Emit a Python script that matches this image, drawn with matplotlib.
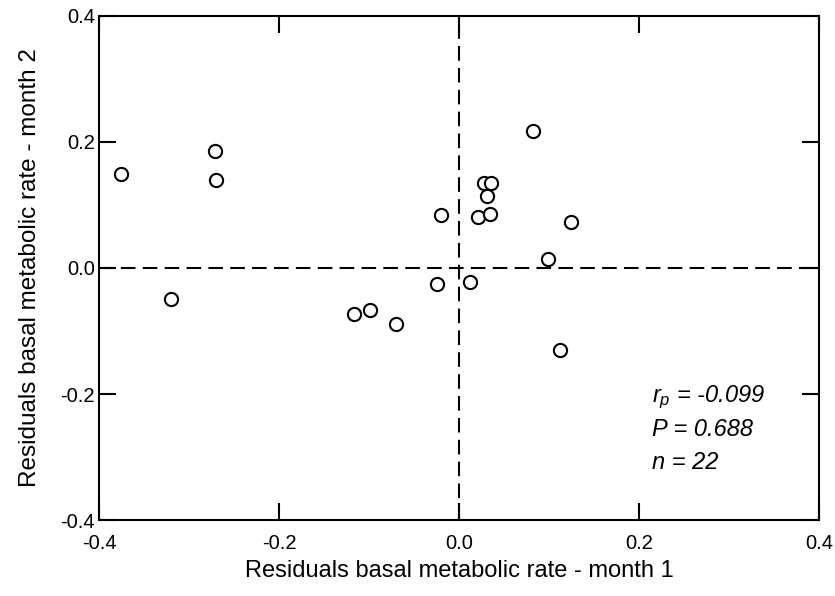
import matplotlib
matplotlib.use("Agg")
import matplotlib.pyplot as plt
from matplotlib.ticker import MultipleLocator, FormatStrFormatter

plt.rcParams["font.family"] = ["Liberation Sans", "DejaVu Sans"]
plt.rcParams["mathtext.fontset"] = "custom"
plt.rcParams["mathtext.it"] = "Liberation Sans:italic"
plt.rcParams["mathtext.rm"] = "Liberation Sans"

# residuals, month 1 vs month 2
month1 = [-0.376, -0.320, -0.271, -0.270, -0.117, -0.099, -0.070, -0.024,
          -0.020, 0.012, 0.021, 0.028, 0.035, 0.031, 0.034, 0.082,
          0.099, 0.112, 0.124]
month2 = [0.149, -0.049, 0.185, 0.139, -0.073, -0.067, -0.089, -0.025,
          0.084, -0.023, 0.081, 0.135, 0.135, 0.114, 0.086, 0.218,
          0.014, -0.130, 0.073]

stats = ["$r_p$ = -0.099", "P = 0.688", "n = 22"]

fig = plt.figure(figsize=(8.35, 5.96), dpi=100)
ax = fig.add_axes([0.1186, 0.1275, 0.8624, 0.8457])

ax.axhline(0, color="black", lw=1.5, ls=(0, (7, 3.5)), zorder=1)
ax.axvline(0, color="black", lw=1.5, ls=(0, (7, 3.5)), zorder=1)
ax.plot(month1, month2, "o", ms=9.5, mfc="white", mec="black", mew=1.5, zorder=3)

ax.set_xlim(-0.4, 0.4)
ax.set_ylim(-0.4, 0.4)
ax.xaxis.set_major_locator(MultipleLocator(0.2))
ax.yaxis.set_major_locator(MultipleLocator(0.2))
ax.xaxis.set_major_formatter(FormatStrFormatter("%.1f"))
ax.yaxis.set_major_formatter(FormatStrFormatter("%.1f"))
ax.tick_params(direction="in", length=12, width=1.5, labelsize=14.5,
               top=True, right=True)
ax.tick_params(axis="x", pad=10)
ax.tick_params(axis="y", pad=3)
for s in ax.spines.values():
    s.set_linewidth(1.5)

ax.set_xlabel("Residuals basal metabolic rate - month 1", fontsize=17, labelpad=5)
ax.set_ylabel("Residuals basal metabolic rate - month 2", fontsize=17.5, labelpad=14)

for i, t in enumerate(stats):
    ax.text(0.214, -0.205 - i * 0.052, t, fontsize=17, style="italic", va="center")

fig.savefig("out.png", dpi=100)
